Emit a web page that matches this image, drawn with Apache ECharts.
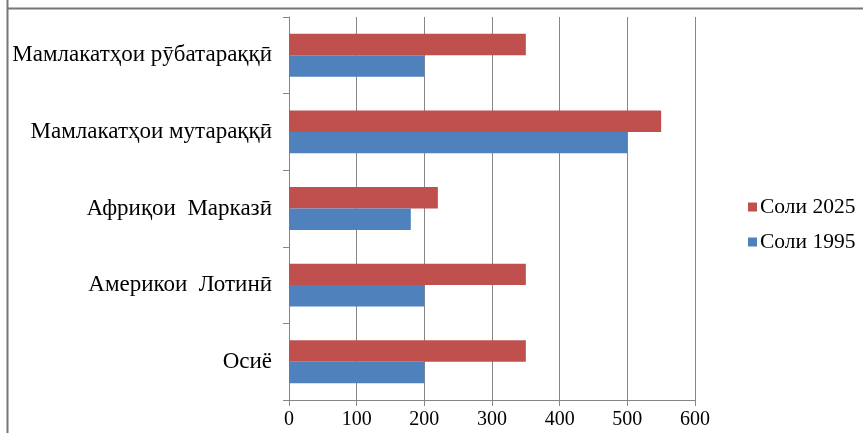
<!DOCTYPE html>
<html>
<head>
<meta charset="utf-8">
<script src="https://cdn.jsdelivr.net/npm/echarts@6/dist/echarts.min.js"></script>
<style>
html,body{margin:0;padding:0;background:#fff;}
#c{width:863px;height:433px;}
</style>
</head>
<body>
<div id="c"></div>
<script>
const categories = ['Осиё', 'Америкои  Лотинӣ', 'Африқои  Марказӣ', 'Мамлакатҳои мутараққӣ', 'Мамлакатҳои рӯбатараққӣ'];
const seriesNames = ['Соли 2025', 'Соли 1995'];
const values2025 = [350, 350, 220, 550, 350];
const values1995 = [200, 200, 180, 500, 200];
const xTicks = [0, 100, 200, 300, 400, 500, 600];

const chart = echarts.init(document.getElementById('c'));
const font = 'Liberation Serif';
chart.setOption({
  animation: false,
  textStyle: {fontFamily: font},
  grid: {left: 289, right: 168, top: 17, bottom: 33},
  legend: {
    orient: 'vertical',
    left: 743, top: 191,
    data: ['Соли 2025', 'Соли 1995'],
    icon: 'rect', itemWidth: 9, itemHeight: 9, itemGap: 13,
    textStyle: {fontFamily: font, fontSize: 21.5, color: '#000', padding: [0,0,0,-2]}
  },
  xAxis: {
    type: 'value', min: xTicks[0], max: xTicks[xTicks.length-1], interval: 100,
    axisLine: {show: true, lineStyle: {color: '#868686'}},
    axisTick: {show: true, length: 6, lineStyle: {color: '#868686'}},
    splitLine: {show: true, lineStyle: {color: '#868686', width: 1}},
    axisLabel: {fontFamily: font, fontSize: 20, color: '#000', margin: 10}
  },
  yAxis: {
    type: 'category', data: categories,
    axisLine: {show: true, lineStyle: {color: '#868686'}},
    axisTick: {show: true, length: 6, lineStyle: {color: '#868686'}},
    axisLabel: {fontFamily: font, fontSize: 23, color: '#000', margin: 17}
  },
  series: [
    {name: seriesNames[0], type: 'bar', data: values2025, itemStyle: {color: '#C0504D'}, barCategoryGap: '44%', barGap: '0%'},
    {name: seriesNames[1], type: 'bar', data: values1995, itemStyle: {color: '#4F81BD'}, barCategoryGap: '44%', barGap: '0%'}
  ],
  graphic: [
    {type: 'line', shape: {x1: 7.5, y1: 0, x2: 7.5, y2: 433}, style: {stroke: '#777', lineWidth: 2}},
    {type: 'line', shape: {x1: 7, y1: 8.5, x2: 863, y2: 8.5}, style: {stroke: '#777', lineWidth: 2}}
  ]
});
</script>
</body>
</html>
